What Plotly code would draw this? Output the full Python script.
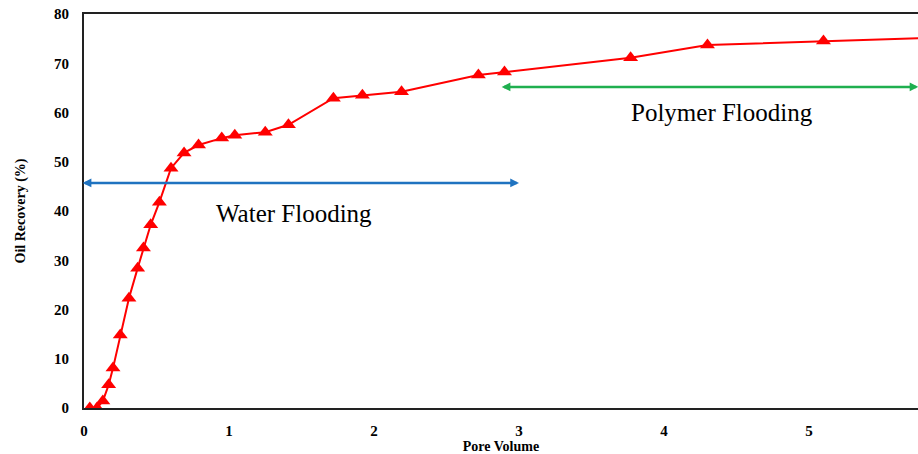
import plotly.graph_objects as go

pore_volume = [0.04, 0.09, 0.13, 0.17, 0.20, 0.25, 0.31, 0.37, 0.41, 0.46, 0.52,
               0.60, 0.69, 0.79, 0.95, 1.04, 1.25, 1.41, 1.72, 1.92, 2.19,
               2.72, 2.90, 3.77, 4.30, 5.10, 6.00]
oil_recovery = [0.0, 0.0, 1.4, 4.7, 8.1, 14.8, 22.3, 28.4, 32.5, 37.2, 41.8,
                48.7, 51.8, 53.4, 54.8, 55.4, 56.0, 57.5, 62.9, 63.5, 64.2,
                67.6, 68.2, 71.1, 73.7, 74.5, 75.3]

x_ticks = [0, 1, 2, 3, 4, 5]
y_ticks = [0, 10, 20, 30, 40, 50, 60, 70, 80]

water_arrow = {"x0": -0.02, "x1": 3.0, "y": 45.7, "label": "Water Flooding", "lx": 1.45, "ly": 39.5}
polymer_arrow = {"x0": 2.87, "x1": 5.755, "y": 65.2, "label": "Polymer Flooding", "lx": 4.40, "ly": 60.0}

FONT = "Liberation Serif, Times New Roman, serif"

fig = go.Figure()
fig.add_trace(go.Scatter(
    x=pore_volume, y=oil_recovery, mode="lines+markers",
    line=dict(color="#FF0000", width=2),
    marker=dict(symbol="triangle-up", size=13, color="#FF0000"),
    cliponaxis=True, showlegend=False,
))

annotations = []
for arr, col in [(water_arrow, "#1F73C0"), (polymer_arrow, "#1FAF4F")]:
    annotations.append(dict(
        x=arr["x1"], y=arr["y"], ax=arr["x0"], ay=arr["y"],
        xref="x", yref="y", axref="x", ayref="y",
        showarrow=True, arrowhead=2, startarrowhead=2, arrowside="end+start",
        arrowsize=0.7, startarrowsize=0.7, arrowwidth=2.5, arrowcolor=col, text="",
    ))
    annotations.append(dict(
        x=arr["lx"], y=arr["ly"], xref="x", yref="y", showarrow=False,
        text=arr["label"], font=dict(family=FONT, size=25, color="black"),
    ))

fig.update_layout(
    width=918, height=454,
    margin=dict(l=84, r=0, t=14, b=46),
    paper_bgcolor="white", plot_bgcolor="white",
    annotations=annotations,
    xaxis=dict(
        range=[0, 5.752], tickvals=x_ticks, ticktext=[str(v) for v in x_ticks],
        showgrid=False, zeroline=False, showline=True, linecolor="#222", linewidth=2,
        mirror=True, ticks="", ticklabelstandoff=8,
        tickfont=dict(family=FONT, size=15, color="black", weight="bold"),
        title=dict(text="<b>Pore Volume</b>", font=dict(family=FONT, size=14, color="black"), standoff=4),
    ),
    yaxis=dict(
        range=[0, 80], tickvals=y_ticks, ticktext=[str(v) for v in y_ticks],
        showgrid=False, zeroline=False, showline=True, linecolor="#222", linewidth=2,
        ticks="", ticklabelstandoff=10,
        tickfont=dict(family=FONT, size=15, color="black", weight="bold"),
        title=dict(text="<b>Oil Recovery (%)</b>", font=dict(family=FONT, size=14, color="black"), standoff=25),
    ),
)

fig.write_html("out.html")
